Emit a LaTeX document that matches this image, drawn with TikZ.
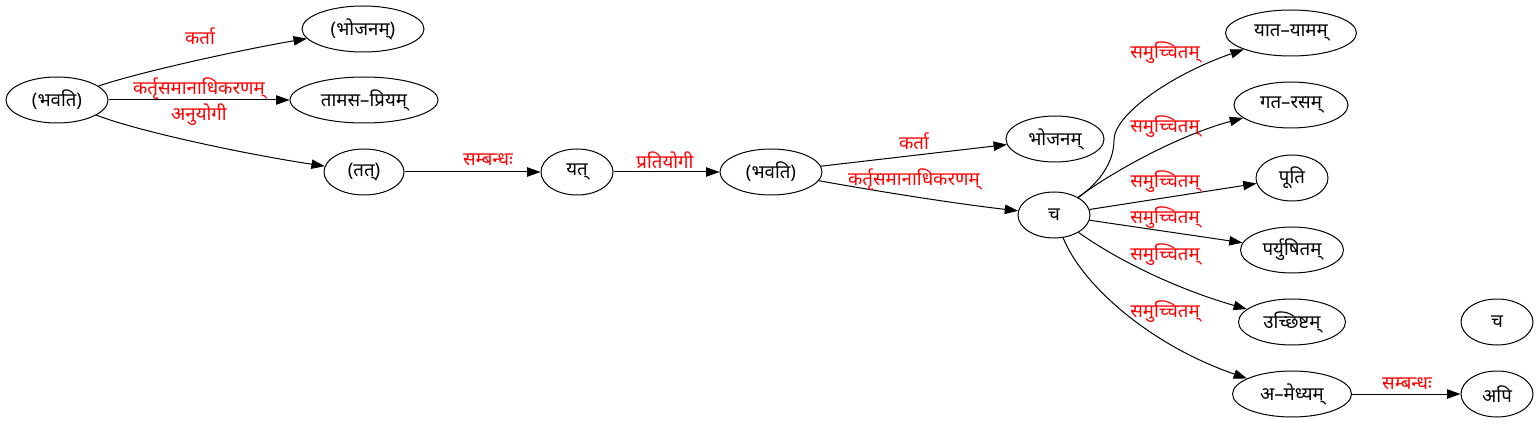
\documentclass[tikz,border=0pt]{standalone}
\usepackage{fontspec}
\newfontfamily\dev[Script=Devanagari]{Noto Sans}
\usetikzlibrary{shapes.geometric,arrows.meta}
\begin{document}
\begin{tikzpicture}[x=0.75pt,y=-0.75pt,
 nd/.style={draw,ellipse,inner sep=0pt,minimum height=34.5pt,line width=0.75pt,font=\dev\fontsize{14}{16}\selectfont},
 edge/.style={-{Triangle[length=10pt,width=7pt]},line width=0.75pt},
 lbl/.style={text=red,font=\dev\fontsize{14}{16}\selectfont,inner sep=0pt}]
\useasboundingbox (0,0) rectangle (1539,424);
% nodes
\node[nd,minimum width=76.5pt] (b1) at (57,100) {(भवति)};
\node[nd,minimum width=91.5pt] (bj1) at (363,29) {(भोजनम्)};
\node[nd,minimum width=111pt] (tp) at (364,100) {तामस–प्रियम्};
\node[nd,minimum width=60pt] (tat) at (364,172) {(तत्)};
\node[nd,minimum width=54pt] (yat) at (577,172) {यत्};
\node[nd,minimum width=76.5pt] (b2) at (771,172) {(भवति)};
\node[nd,minimum width=73.5pt] (bj2) at (1055,139) {भोजनम्};
\node[nd,minimum width=54pt] (ca) at (1054,215) {च};
\node[nd,minimum width=98.25pt] (yy) at (1291,33) {यात–यामम्};
\node[nd,minimum width=85.5pt] (gr) at (1291,105) {गत–रसम्};
\node[nd,minimum width=54pt] (pt) at (1292,178) {पूति};
\node[nd,minimum width=77.25pt] (pr) at (1292,250) {पर्युषितम्};
\node[nd,minimum width=80.25pt] (uc) at (1292,322) {उच्छिष्टम्};
\node[nd,minimum width=89.25pt] (am) at (1292,394) {अ–मेध्यम्};
\node[nd,minimum width=54pt] (ca2) at (1497,322) {च};
\node[nd,minimum width=54pt] (api) at (1497,394) {अपि};
% edges
\draw[edge] (b1) .. controls (140,72) and (240,50) .. (bj1);
\draw[edge] (b1) -- (tp);
\draw[edge] (b1) .. controls (140,132) and (250,155) .. (tat);
\draw[edge] (tat) -- (yat);
\draw[edge] (yat) -- (b2);
\draw[edge] (b2) -- (bj2);
\draw[edge] (b2) .. controls (870,190) and (950,203) .. (ca);
\draw[edge] (ca) .. controls (1100,182) and (1114,162) .. (1114,140) .. controls (1114,115) and (1170,75) .. (yy);
\draw[edge] (ca) .. controls (1115,170) and (1180,135) .. (gr);
\draw[edge] (ca) -- (pt);
\draw[edge] (ca) -- (pr);
\draw[edge] (ca) .. controls (1120,262) and (1180,290) .. (uc);
\draw[edge] (ca) .. controls (1082,285) and (1150,345) .. (am);
\draw[edge] (am) -- (api);
% labels
\node[lbl] (l1) at (200,36) {कर्ता};
\node[lbl] (l2) at (199,89) {कर्तृसमानाधिकरणम्};
\node[lbl] (l3) at (199,115) {अनुयोगी};
\node[lbl] (l4) at (488,160) {सम्बन्धः};
\node[lbl] (l5) at (665,160) {प्रतियोगी};
\node[lbl] (l6) at (914,141) {कर्ता};
\node[lbl] (l7) at (914,180) {कर्तृसमानाधिकरणम्};
\node[lbl] (s1) at (1165,53) {समुच्चितम्};
\node[lbl] (s2) at (1165,127) {समुच्चितम्};
\node[lbl] (s3) at (1165,182) {समुच्चितम्};
\node[lbl] (s4) at (1165,218) {समुच्चितम्};
\node[lbl] (s5) at (1165,255) {समुच्चितम्};
\node[lbl] (s6) at (1165,312) {समुच्चितम्};
\node[lbl] (l8) at (1407,384) {सम्बन्धः};
\end{tikzpicture}
\end{document}
